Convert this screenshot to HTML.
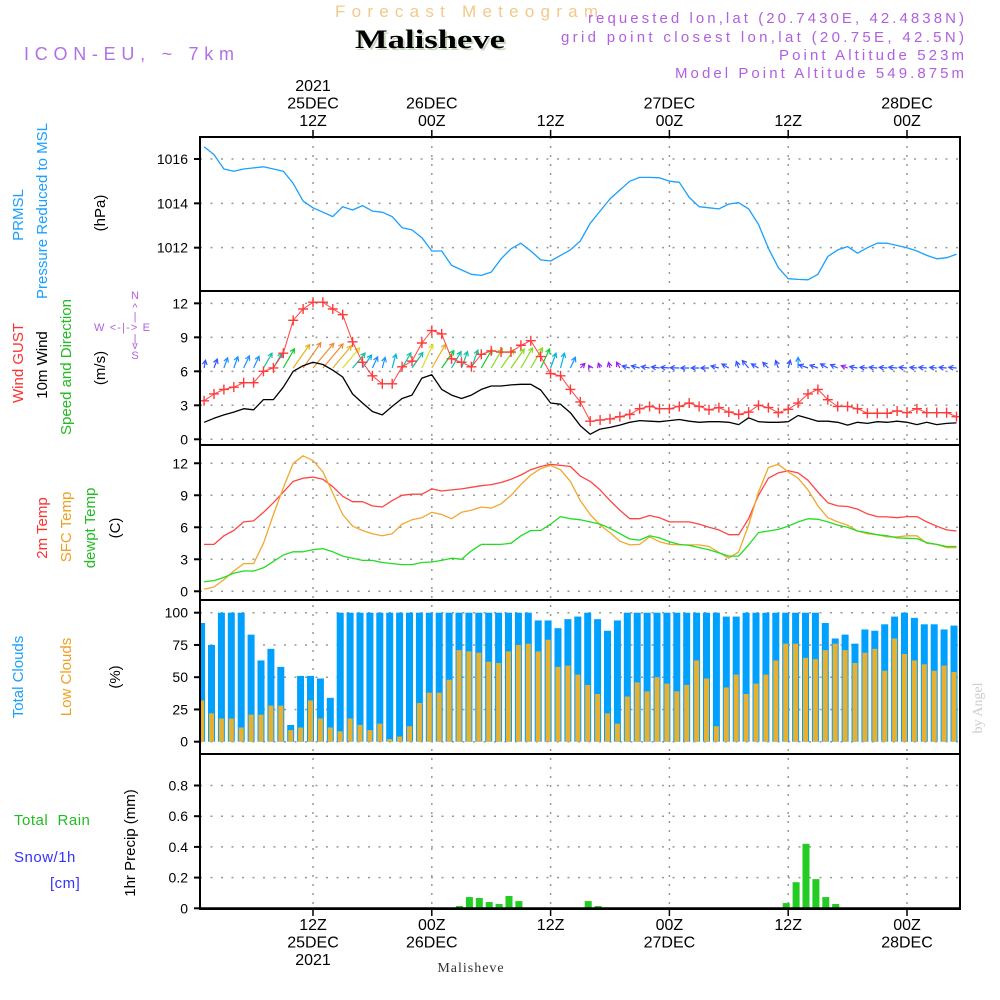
<!DOCTYPE html>
<html><head><meta charset="utf-8"><style>
html,body{margin:0;padding:0;background:#fff;}
svg{display:block;font-family:"Liberation Sans",sans-serif;}
</style></head><body>
<svg id="chart" width="1000" height="1000" viewBox="0 0 1000 1000" xmlns="http://www.w3.org/2000/svg">
<rect x="0" y="0" width="1000" height="1000" fill="#fff"/>
<!-- header -->
<text x="335" y="17" font-size="17" fill="#f2c98a" textLength="263" lengthAdjust="spacing">Forecast Meteogram</text>
<text x="357" y="50" font-size="26" font-weight="bold" font-family="Liberation Serif, serif" fill="#c8d8c0" textLength="150" lengthAdjust="spacingAndGlyphs">Malisheve</text>
<text x="355" y="48" font-size="26" font-weight="bold" font-family="Liberation Serif, serif" fill="#000" textLength="150" lengthAdjust="spacingAndGlyphs">Malisheve</text>
<text x="24" y="60" font-size="18" fill="#b070e8" textLength="210" lengthAdjust="spacing">ICON-EU, ~ 7km</text>
<g font-size="15" fill="#b060e0">
<text x="588" y="23" textLength="376" lengthAdjust="spacing">requested lon,lat (20.7430E, 42.4838N)</text>
<text x="561" y="42" textLength="403" lengthAdjust="spacing">grid point closest lon,lat (20.75E, 42.5N)</text>
<text x="779" y="60" textLength="185" lengthAdjust="spacing">Point Altitude 523m</text>
<text x="675" y="78" textLength="289" lengthAdjust="spacing">Model Point Altitude 549.875m</text>
</g>
<!-- left labels -->
<g font-size="15" text-anchor="middle">
<text transform="translate(23,215) rotate(-90)" fill="#1aa0ff">PRMSL</text>
<text transform="translate(47,211) rotate(-90)" fill="#1aa0ff">Pressure Reduced to MSL</text>
<text transform="translate(105,213) rotate(-90)" fill="#000">(hPa)</text>
<text transform="translate(23,363) rotate(-90)" fill="#ff3030">Wind GUST</text>
<text transform="translate(47,365) rotate(-90)" fill="#000">10m Wind</text>
<text transform="translate(71,367) rotate(-90)" fill="#22bb22">Speed and Direction</text>
<text transform="translate(105,368) rotate(-90)" fill="#000">(m/s)</text>
<text transform="translate(47,528) rotate(-90)" fill="#ff3030">2m Temp</text>
<text transform="translate(71,527) rotate(-90)" fill="#f0a020">SFC Temp</text>
<text transform="translate(95,528) rotate(-90)" fill="#22bb22">dewpt Temp</text>
<text transform="translate(120,528) rotate(-90)" fill="#000">(C)</text>
<text transform="translate(23,677) rotate(-90)" fill="#1aa0ff">Total Clouds</text>
<text transform="translate(71,677) rotate(-90)" fill="#f0a020">Low Clouds</text>
<text transform="translate(120,677) rotate(-90)" fill="#000">(%)</text>
<text transform="translate(135,843) rotate(-90)" fill="#000">1hr Precip (mm)</text>
</g>
<g font-size="15" letter-spacing="0.5">
<text x="14" y="825" fill="#22bb22">Total&#160;&#160;Rain</text>
<text x="14" y="862" fill="#3333ff">Snow/1h</text>
<text x="50" y="888" fill="#3333ff">[cm]</text>
</g>
<g font-size="11" fill="#b060e0" text-anchor="middle">
<text x="135" y="299">N</text>
<text x="135" y="311">^</text>
<text x="135" y="320">|</text>
<text x="122" y="331" textLength="56" lengthAdjust="spacing">W &lt;-|-&gt; E</text>
<text x="135" y="342">|</text>
<text x="135" y="349">v</text>
<text x="135" y="359">S</text>
</g>
<text transform="translate(982,708) rotate(-90)" font-size="14" font-family="Liberation Serif, serif" fill="#ccc" text-anchor="middle">by Angel</text>
<text x="471" y="972" font-size="14" font-family="Liberation Serif, serif" fill="#333" text-anchor="middle" letter-spacing="1">Malisheve</text>
<g id="grid"></g>
<g id="marks"></g>
<g id="frames"></g>
</svg>
<script>
// ---- data (hours from 12Z 25DEC, h = -11 .. 65) ----
const hourStart = -11;
const pressure = [1016.55,1016.2,1015.55,1015.45,1015.55,1015.6,1015.65,1015.55,1015.45,1014.9,1014.1,
1013.8,1013.6,1013.4,1013.85,1013.7,1013.9,1013.65,1013.6,1013.4,1012.9,
1012.8,1012.45,1011.85,1011.85,1011.2,1011.0,1010.8,1010.75,1010.9,1011.5,
1011.95,1012.2,1011.85,1011.45,1011.4,1011.65,1011.9,1012.3,1013.1,1013.65,
1014.2,1014.6,1015.0,1015.17,1015.17,1015.15,1015.0,1014.95,1014.27,1013.85,
1013.8,1013.75,1013.97,1014.03,1013.75,1013.05,1011.97,1011.1,1010.6,1010.57,
1010.55,1010.8,1011.6,1011.9,1012.05,1011.75,1012.0,1012.2,1012.2,1012.1,
1012.0,1011.85,1011.65,1011.5,1011.55,1011.7];
const gust = [3.4,4.0,4.4,4.6,5.0,5.0,6.0,6.3,7.6,10.5,11.5,
12.1,12.1,11.5,11.0,8.6,6.8,5.6,4.9,4.9,6.4,
6.9,8.5,9.6,9.3,7.1,6.8,6.4,7.5,7.8,7.7,
7.7,8.3,8.7,7.3,5.8,5.6,4.4,3.3,1.6,1.7,
1.8,2.0,2.2,2.7,2.9,2.7,2.7,2.9,3.2,2.9,
2.6,2.8,2.4,2.2,2.4,3.0,2.8,2.35,2.65,3.2,
4.0,4.4,3.5,2.9,2.9,2.7,2.3,2.3,2.3,2.5,
2.35,2.7,2.35,2.35,2.35,2.0];
const wind = [1.5,1.85,2.15,2.4,2.7,2.6,3.5,3.5,4.6,6.0,6.5,
6.8,6.6,6.1,5.5,4.0,3.2,2.45,2.15,2.9,3.6,
3.9,5.4,5.7,4.4,3.9,3.6,3.9,4.4,4.7,4.7,
4.8,4.85,4.85,4.35,3.2,3.1,2.35,1.2,0.45,0.9,
1.05,1.25,1.5,1.65,1.6,1.55,1.65,1.75,1.6,1.5,
1.55,1.55,1.5,1.3,1.9,1.55,1.5,1.5,1.55,2.1,
1.85,1.6,1.6,1.5,1.25,1.5,1.4,1.55,1.5,1.6,
1.5,1.3,1.5,1.3,1.4,1.45];
const windDirTo = [10,20,20,20,25,25,30,30,30,35,35,
40,40,40,40,40,35,25,15,15,30,
35,25,30,35,30,20,20,30,30,35,
35,30,30,25,20,15,25,45,330,340,
345,330,285,285,280,278,275,272,270,270,
270,285,300,340,320,300,315,340,15,0,
290,290,300,295,290,280,275,275,275,275,
275,275,275,275,275,275];
const t2m = [4.4,4.4,5.2,5.7,6.5,6.6,7.4,8.3,9.3,10.3,10.6,
10.7,10.5,9.8,8.9,8.4,8.4,8.0,7.9,8.5,9.0,
9.1,9.1,9.6,9.4,9.5,9.6,9.75,9.9,10.0,10.2,
10.5,10.9,11.4,11.7,11.9,11.8,11.7,10.8,10.3,9.5,
8.5,7.6,6.8,6.8,7.1,6.9,6.5,6.5,6.5,6.3,
6.0,5.75,5.3,5.3,6.8,9.0,10.6,11.1,11.3,11.1,
10.4,9.3,8.3,8.0,7.95,7.7,7.25,7.0,6.97,6.9,
7.0,7.0,6.5,6.1,5.75,5.65];
const tsfc = [0.2,0.4,1.1,1.9,2.6,2.6,4.5,7.2,9.7,12.0,12.7,
12.25,11.2,9.2,7.2,6.1,5.7,5.4,5.2,5.4,6.3,
6.7,6.9,7.4,7.2,6.8,7.4,7.6,7.9,7.8,8.2,
9.0,10.0,10.9,11.5,11.8,11.4,10.3,8.5,7.2,6.2,
5.5,4.7,4.35,4.4,5.1,4.65,4.4,4.35,4.35,4.35,
4.2,3.65,3.1,3.7,6.2,9.3,11.6,11.9,11.2,10.6,
9.5,8.0,6.9,6.5,6.2,5.65,5.4,5.3,5.1,5.1,
5.2,5.2,4.5,4.4,4.1,4.1];
const tdew = [0.9,1.0,1.3,1.7,1.9,1.9,2.2,2.8,3.4,3.7,3.7,
3.9,4.0,3.7,3.3,3.1,2.9,2.9,2.7,2.6,2.5,
2.5,2.7,2.75,2.9,3.1,3.0,3.8,4.4,4.4,4.4,
4.5,5.2,5.7,5.7,6.3,7.0,6.8,6.7,6.5,6.3,
5.9,5.4,4.9,4.8,5.2,5.0,4.65,4.4,4.3,4.1,
3.9,3.6,3.3,3.3,4.35,5.5,5.65,5.8,6.1,6.5,
6.8,6.75,6.5,6.2,6.0,5.65,5.5,5.3,5.2,5.0,
4.97,4.94,4.56,4.4,4.2,4.2];
const cloudTotal = [92,75,100,100,100,83,63,72,58,13,51,
51,49,34,100,100,100,100,100,100,100,
100,100,100,100,100,100,100,100,100,100,
100,100,100,94,94,88,95,97,100,95,
86,94,100,100,100,100,100,100,100,100,
100,100,97,97,100,100,100,100,100,100,
100,100,92,80,83,76,87,86,91,97,
100,96,91,91,87,90];
const cloudLow = [32,22,18,18,11,21,21,28,28,9,11,
32,18,11,8,18,13,9,14,2,4,
12,30,38,38,48,71,70,69,62,61,
70,75,76,70,79,58,59,52,44,37,
22,14,35,46,39,50,45,39,44,63,
49,12,42,52,37,45,52,63,76,76,
65,64,71,76,71,61,69,72,55,80,
68,63,60,55,59,54];
const precip = [0,0,0,0,0,0,0,0,0,0,0,0,0,0,0,0,0,0,0,0,0,0,0,0,0,0,
0.015,0.073,0.067,0.041,0.028,0.08,0.047,
0,0,0,0,0,0,
0.047,0.015,
0,0,0,0,0,0,0,0,0,0,0,0,0,0,0,0,0,0,
0.034,0.17,0.42,0.19,0.073,0.028,
0,0,0,0,0,0,0,0,0,0,0,0];
const pressureTicks = [1012,1014,1016];
const windTicks = [0,3,6,9,12];
const tempTicks = [0,3,6,9,12];
const cloudTicks = [0,25,50,75,100];
const precipTicks = [0,0.2,0.4,0.6,0.8];
const gridHours = [0,12,24,36,48,60];
const topLabels = [["2021","25DEC","12Z"],["","26DEC","00Z"],["","","12Z"],["","27DEC","00Z"],["","","12Z"],["","28DEC","00Z"]];
const bottomLabels = [["12Z","25DEC","2021"],["00Z","26DEC",""],["12Z","",""],["00Z","27DEC",""],["12Z","",""],["00Z","28DEC",""]];

// ---- geometry ----
const X0 = 200, X1 = 960;
const xh = h => 313 + h * 9.9;
const yP = p => 159 - (p - 1016) * 22.17;
const yW = v => 439.3 - v * 11.33;
const yT = t => 591.3 - t * 10.67;
const yC = c => 741.7 - c * 1.29;
const yR = r => 908.3 - r * 153.5;
const panels = [[137,291],[291,445],[445,600],[600,754],[754,909]];
const NS = "http://www.w3.org/2000/svg";
function mk(tag, attrs, parent){
  const e = document.createElementNS(NS, tag);
  for (const k in attrs) e.setAttribute(k, attrs[k]);
  parent.appendChild(e); return e;
}
const svg = document.getElementById('chart');
const grid = document.getElementById('grid');
const marks = document.getElementById('marks');
const frames = document.getElementById('frames');
const defs = mk('defs', {}, svg);
panels.forEach((p,i)=>{
  const cp = mk('clipPath', {id:'clip'+i}, defs);
  mk('rect', {x:X0, y:p[0], width:X1-X0, height:p[1]-p[0]}, cp);
});

gridHours.forEach(h=>{
  const l = mk('line', {x1:xh(h), x2:xh(h), y1:137, y2:909, stroke:'#999', 'stroke-width':1.5, 'stroke-dasharray':'2,7'}, grid);
  
  
});
function yAxis(ticks, f, fmt, name){
  ticks.forEach(t=>{
    const y = f(t);
    const g = mk('line', {x1:X0, x2:X1, y1:y, y2:y, stroke:'#999', 'stroke-width':1.5, 'stroke-dasharray':'2,8.5'}, grid);
    
    
    const tk = mk('line', {x1:X0-6, x2:X0, y1:y, y2:y, stroke:'#000', 'stroke-width':2}, frames);
    
    
    const tx = mk('text', {x:X0-12, y:y+5, 'font-size':14, 'text-anchor':'end', fill:'#000'}, frames);
    tx.textContent = fmt(t);
    
    
  });
}
yAxis(pressureTicks, yP, t=>String(t), 'pressure-axis');
yAxis(windTicks, yW, t=>String(t), 'wind-axis');
yAxis(tempTicks, yT, t=>String(t), 'temp-axis');
yAxis(cloudTicks, yC, t=>String(t), 'cloud-axis');
yAxis(precipTicks, yR, t=>t===0?'0':t.toFixed(1), 'precip-axis');

gridHours.forEach((h,i)=>{
  const x = xh(h);
  const t1 = mk('line', {x1:x, x2:x, y1:130, y2:137, stroke:'#000', 'stroke-width':1.5}, frames);
  
  
  const t2 = mk('line', {x1:x, x2:x, y1:909, y2:916, stroke:'#000', 'stroke-width':1.5}, frames);
  
  
  topLabels[i].forEach((s,j)=>{
    if(!s) return;
    const t = mk('text', {x:x, y:91+j*17.5, 'font-size':16, 'text-anchor':'middle', fill:'#000'}, frames);
    t.textContent = s;
    
    
  });
  bottomLabels[i].forEach((s,j)=>{
    if(!s) return;
    const t = mk('text', {x:x, y:930+j*17.5, 'font-size':16, 'text-anchor':'middle', fill:'#000'}, frames);
    t.textContent = s;
    
    
  });
});

function linePath(arr, f, color, w, name, clip){
  const d = arr.map((v,i)=>(i?'L':'M')+xh(hourStart+i).toFixed(1)+','+f(v).toFixed(1)).join('');
  const p = mk('path', {d:d, fill:'none', stroke:color, 'stroke-width':w, 'stroke-linejoin':'round', 'clip-path':'url(#clip'+clip+')'}, marks);
  
  
  return p;
}
linePath(pressure, yP, '#1aa0ff', 1.3, 'pressure-line', 0);

cloudTotal.forEach((c,i)=>{
  const x = xh(hourStart+i) - 2.5;
  const b = mk('rect', {x:x-3.5, y:yC(c), width:7, height:yC(0)-yC(c), fill:'#00a0ff', 'clip-path':'url(#clip3)'}, marks);
  
  
});
cloudLow.forEach((c,i)=>{
  const x = xh(hourStart+i) - 2.5;
  const b = mk('rect', {x:x-2.5, y:yC(c), width:5, height:yC(0)-yC(c), fill:'#e8b030', 'clip-path':'url(#clip3)'}, marks);
  
  
});

precip.forEach((r,i)=>{
  if(r<=0) return;
  const x = xh(hourStart+i) - 2;
  const b = mk('rect', {x:x-3.5, y:yR(r), width:7, height:yR(0)-yR(r), fill:'#22cc22', 'clip-path':'url(#clip4)'}, marks);
  
  
});
const base = mk('line', {x1:X0, x2:X1, y1:yR(0), y2:yR(0), stroke:'#000', 'stroke-width':2}, marks);



linePath(t2m, yT, '#ff4444', 1.3, 't2m-line', 2);
linePath(tsfc, yT, '#f0a830', 1.3, 'sfc-temp-line', 2);
linePath(tdew, yT, '#22dd22', 1.3, 'dewpoint-line', 2);

function arrowColor(s){
  if (s < 1.3) return '#9a22ee';
  if (s < 2.0) return '#3355ff';
  if (s < 2.8) return '#1e90ff';
  if (s < 3.4) return '#00b4e0';
  if (s < 4.2) return '#10c0a0';
  if (s < 4.7) return '#11cc33';
  if (s < 5.0) return '#88dd22';
  if (s < 5.6) return '#dddd22';
  if (s < 6.2) return '#e8b020';
  return '#f08c30';
}
wind.forEach((s,i)=>{
  const x = xh(hourStart+i), y = 368;
  const a = windDirTo[i]*Math.PI/180;
  const L = 4.6*s + 1;
  const x2 = x + L*Math.sin(a), y2 = y - L*Math.cos(a);
  const hl = 5, ha = 0.5;
  const bx = -Math.sin(a), by = Math.cos(a);
  const h1x = x2 + hl*(bx*Math.cos(ha) - by*Math.sin(ha)), h1y = y2 + hl*(bx*Math.sin(ha) + by*Math.cos(ha));
  const h2x = x2 + hl*(bx*Math.cos(-ha) - by*Math.sin(-ha)), h2y = y2 + hl*(bx*Math.sin(-ha) + by*Math.cos(-ha));
  const p = mk('path', {d:`M${x},${y}L${x2},${y2}M${h1x},${h1y}L${x2},${y2}L${h2x},${h2y}`, fill:'none', stroke:arrowColor(s), 'stroke-width':1.2, 'clip-path':'url(#clip1)'}, marks);
  
  
});
linePath(wind, yW, '#000', 1.3, 'wind-speed-line', 1);
linePath(gust, yW, '#ff4444', 1, 'gust-line', 1);
gust.forEach((g,i)=>{
  const x = xh(hourStart+i), y = yW(g);
  const m = mk('path', {d:`M${x-5},${y}L${x+5},${y}M${x},${y-5}L${x},${y+5}`, stroke:'#ff3a3a', 'stroke-width':1.4, 'clip-path':'url(#clip1)'}, marks);
  
  
});

panels.forEach((p,i)=>{
  const r = mk('rect', {x:X0, y:p[0], width:X1-X0, height:p[1]-p[0], fill:'none', stroke:'#000', 'stroke-width':2}, frames);
  
  
});
</script>
</body></html>
